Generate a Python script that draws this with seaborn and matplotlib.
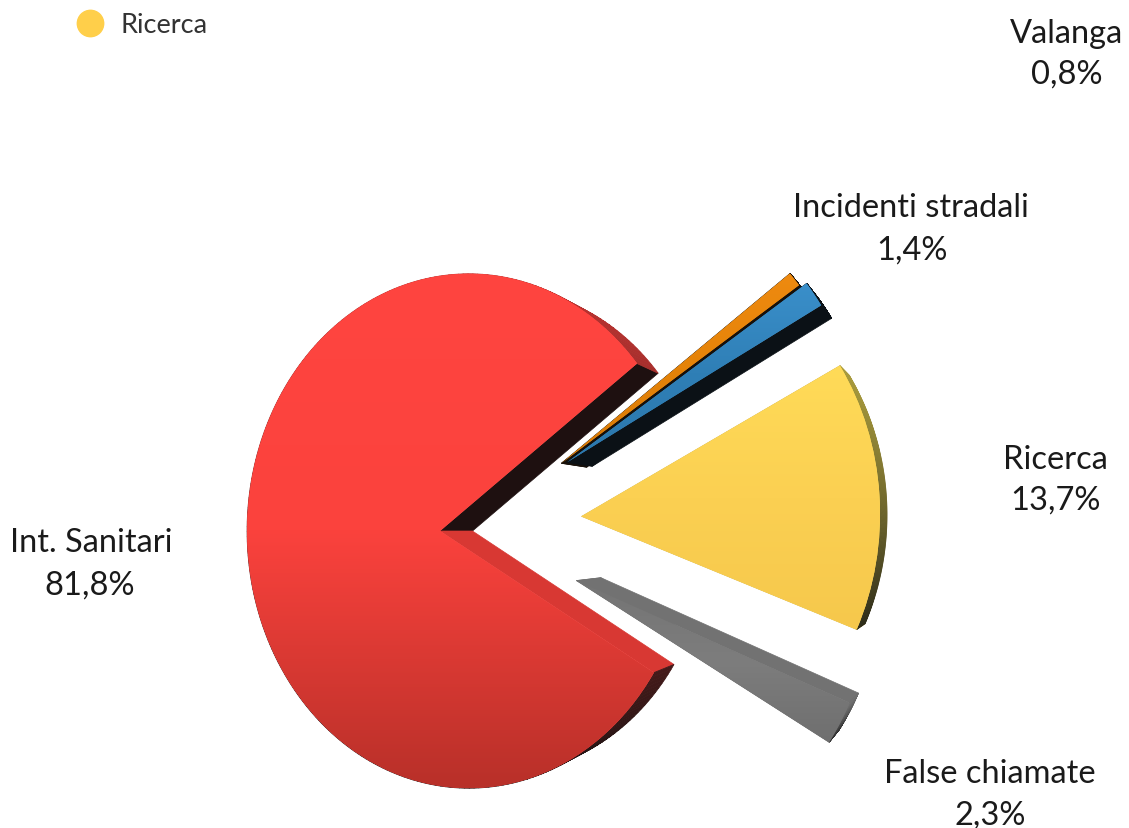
import numpy as np
import seaborn as sns
import matplotlib.pyplot as plt
from matplotlib.colors import LinearSegmentedColormap, to_rgb
from matplotlib.lines import Line2D
from matplotlib.transforms import Transform

# values of the chart, in percent
labels = ['Int. Sanitari', 'False chiamate', 'Ricerca', 'Incidenti stradali', 'Valanga']
values = [81.8, 2.3, 13.7, 1.4, 0.8]
value_text = ['81,8%', '2,3%', '13,7%', '1,4%', '0,8%']
explode = [0, 0.64, 0.6, 0.63, 0.63]
legend_labels = ['Ricerca']

face_colors = [['#ff4540', '#fb423d', '#b83029'],
               ['#747474', '#7d7d7d', '#6f6f6f'],
               ['#ffdb58', '#fbd052', '#f6c84c'],
               ['#3a8fca', '#2f7fb6', '#2c78ad'],
               ['#ee8a10', '#e58308', '#d87a08']]
rim_top = ['#bb3330', '#707070', '#a89a3c', '#0b1116', '#17100a']
rim_bottom = ['#1c1212', '#2a2a2a', '#2e2c1a', '#0b1116', '#17100a']
wall_a = ['#1e1010', '#727272', '#d8b850', '#0b1116', '#17100a']
wall_b = ['#d83833', '#727272', '#d8b850', '#0b1116', '#17100a']
label_pos = [(91, 543, 90, 586), (990, 774, 990, 816), (1055, 460, 1055, 501),
             (911, 208, 912, 251), (1067, 34, 1067, 75)]

sns.set_theme(style='white')
plt.rcParams['font.family'] = ['Lato', 'DejaVu Sans']

# perspective of the pie, unit circle -> pixels
CX, CY = 440, 532
AX, AY, K = 218, 255, 0.13
VP = np.array([1000, 532])
DEPTH = 0.058
# the cut out slices move less in height than in width on the picture
lift_scale = [1, 0.75, 0.75, 0.7, 0.62]
LIFT = 0.026


def project(xy):
    xy = np.asarray(xy, dtype=float)
    d = 1 - K * xy[:, 0]
    return np.column_stack([CX + AX * xy[:, 0] / d, CY - AY * xy[:, 1] / d])


def to_back(pts):
    return pts + DEPTH * (VP - pts)


class Persp(Transform):
    input_dims = 2
    output_dims = 2

    def transform_non_affine(self, values):
        return project(values)


fig = plt.figure(figsize=(11.29, 8.29), dpi=100)
ax = fig.add_axes([0, 0, 1, 1])
wedges, _ = ax.pie(values, explode=explode, startangle=36, colors=[c[0] for c in face_colors],
                   wedgeprops={'linewidth': 0})
ax.set_aspect('auto')
persp = Persp() + ax.transData

# orange goes first so the blue slice sits on top of its dark side
for k, i in enumerate([4, 3, 2, 1, 0]):
    w = wedges[i]
    if explode[i] > 0:
        w.set_center((w.center[0], w.center[1] * lift_scale[i] + LIFT))
    th = np.radians(np.linspace(w.theta1, w.theta2, 240))
    c = np.array(w.center)
    arc = project(np.column_stack([c[0] + w.r * np.cos(th), c[1] + w.r * np.sin(th)]))
    apex = project([c])[0]
    arc_b, apex_b = to_back(arc), to_back(apex)

    # straight walls
    ax.fill([apex[0], arc[0, 0], arc_b[0, 0], apex_b[0]],
            [apex[1], arc[0, 1], arc_b[0, 1], apex_b[1]],
            color=wall_a[i], lw=0.5, zorder=k * 4 + 1)
    ax.fill([apex[0], arc[-1, 0], arc_b[-1, 0], apex_b[0]],
            [apex[1], arc[-1, 1], arc_b[-1, 1], apex_b[1]],
            color=wall_b[i], lw=0.5, zorder=k * 4 + 1)

    # outer rim, shaded top to bottom
    top, bot = np.array(to_rgb(rim_top[i])), np.array(to_rgb(rim_bottom[i]))
    y0, y1 = arc[:, 1].min(), arc[:, 1].max()
    for j in range(len(th) - 1):
        t = np.clip((arc[j, 1] - y0) / max(y1 - y0, 1), 0, 1) ** 1.2
        col = top + (bot - top) * t
        ax.fill([arc[j, 0], arc[j + 1, 0], arc_b[j + 1, 0], arc_b[j, 0]],
                [arc[j, 1], arc[j + 1, 1], arc_b[j + 1, 1], arc_b[j, 1]],
                color=col, lw=0.6, zorder=k * 4 + 1)

    # front face with its gradient
    w.set_transform(persp)
    w.set_zorder(k * 4 + 2)
    cmap = LinearSegmentedColormap.from_list('f', face_colors[i])
    x_all = np.r_[arc[:, 0], apex[0]]
    y_all = np.r_[arc[:, 1], apex[1]]
    im = ax.imshow(np.linspace(0, 1, 256)[:, None], cmap=cmap, aspect='auto',
                   extent=(x_all.min(), x_all.max(), y_all.max(), y_all.min()),
                   zorder=k * 4 + 3)
    im.set_clip_path(w)

ax.set_xlim(0, 1129)
ax.set_ylim(829, 0)
ax.axis('off')

for lab, txt, (x1, y1, x2, y2) in zip(labels, value_text, label_pos):
    ax.text(x1, y1, lab, ha='center', va='center', fontsize=23.5, color='#1a1a1a', zorder=40)
    ax.text(x2, y2, txt, ha='center', va='center', fontsize=23.5, color='#1a1a1a', zorder=40)

handle = Line2D([], [], ls='', marker='o', ms=19, color='#ffcf4a')
ax.legend([handle], legend_labels, loc='upper left', bbox_to_anchor=(0.034, 1.0135), frameon=False,
          fontsize=19.5, handletextpad=0.12, labelcolor='#333333')

fig.savefig('out.png', dpi=100)
